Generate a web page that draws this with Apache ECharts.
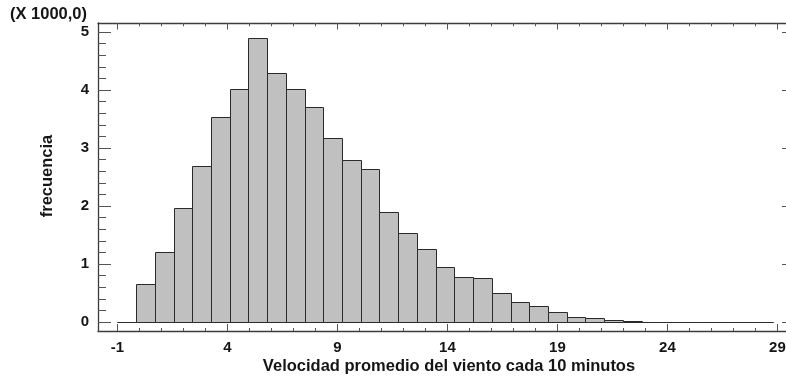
<!DOCTYPE html>
<html>
<head>
<meta charset="utf-8">
<script src="https://cdn.jsdelivr.net/npm/echarts@6/dist/echarts.min.js"></script>
<style>
  html, body { margin: 0; padding: 0; background: #fff; }
  #chart { width: 786px; height: 381px; }
</style>
</head>
<body>
<div id="chart"></div>
<script>
// Histogram of 10-minute mean wind speed
const binStart = -1;      // lower edge of the first class
const binWidth = 0.851;   // class width
const binCounts = [
  0, 651, 1204, 1974, 2682, 3528, 4019, 4900, 4288, 4019,
  3701, 3178, 2786, 2642, 1888, 1532, 1256, 950, 772, 760,
  496, 351, 271, 173, 90, 64, 36, 15, 6, 3,
  2, 1, 1, 0, 1
];
const xTickLabels = [-1, 4, 9, 14, 19, 24, 29];
const yTickValues = [0, 1000, 2000, 3000, 4000, 5000];

const X_MIN = -1.88, X_MAX = 29.8;
const Y_MIN = -155, Y_MAX = 5155;

const FONT = '"Liberation Sans", Arial, sans-serif';
const TEXT = '#151515';
const FRAME = '#3c3c3c';
const TICK = '#555';

const bins = binCounts.map((c, i) => [binStart + i * binWidth, binStart + (i + 1) * binWidth, c]);

const xMinor = [];
for (let v = -1; v <= 29; v++) if (!xTickLabels.includes(v)) xMinor.push(v);
const yMinor = [];
for (let v = 0; v <= 5000; v += 200) if (!yTickValues.includes(v)) yMinor.push(v);

const labelStyle = { fontFamily: FONT, fontWeight: 'bold', fontSize: 15, color: TEXT };

function xAxisDef(position, ticks, len, showLine, labels) {
  return {
    type: 'value', position, min: X_MIN, max: X_MAX,
    axisLine: { show: showLine, onZero: false, lineStyle: { color: FRAME, width: 1.3 } },
    axisTick: { show: true, inside: true, length: len, customValues: ticks, lineStyle: { color: TICK, width: 1 } },
    axisLabel: labels ? Object.assign({ show: true, margin: 9, customValues: ticks }, labelStyle) : { show: false },
    splitLine: { show: false }
  };
}
function yAxisDef(position, ticks, len, showLine, labels) {
  return {
    type: 'value', position, min: Y_MIN, max: Y_MAX,
    axisLine: { show: showLine, onZero: false, lineStyle: { color: FRAME, width: 1.3 } },
    axisTick: { show: true, inside: true, length: len, customValues: ticks, lineStyle: { color: TICK, width: 1 } },
    axisLabel: labels ? Object.assign({ show: true, margin: 9, customValues: ticks, formatter: v => String(v / 1000) }, labelStyle) : { show: false },
    splitLine: { show: false }
  };
}

const chart = echarts.init(document.getElementById('chart'), null, { renderer: 'canvas' });
chart.setOption({
  animation: false,
  backgroundColor: '#fff',
  // the right edge of the plot frame sits just past the canvas
  grid: { left: 98, top: 23, width: 697, height: 308, containLabel: false, outerBoundsMode: 'none' },
  xAxis: [
    xAxisDef('bottom', xTickLabels, 7, true, true),
    xAxisDef('bottom', xMinor, 3, false, false),
    xAxisDef('top', xTickLabels, 6.5, true, false),
    xAxisDef('top', xMinor, 3.3, false, false)
  ],
  yAxis: [
    yAxisDef('left', yTickValues, 13, true, true),
    yAxisDef('left', yMinor, 8, false, false),
    yAxisDef('right', yTickValues, 13, true, false),
    yAxisDef('right', yMinor, 8, false, false)
  ],
  graphic: [
    { type: 'text', left: 10, top: 6, style: { text: '(X 1000,0)', font: 'bold 16.5px ' + FONT, fill: TEXT } },
    { type: 'text', x: 47, y: 176, rotation: Math.PI / 2,
      style: { text: 'frecuencia', font: 'bold 16.5px ' + FONT, fill: TEXT, align: 'center', verticalAlign: 'middle' } },
    { type: 'text', x: 449, y: 366,
      style: { text: 'Velocidad promedio del viento cada 10 minutos', font: 'bold 16.5px ' + FONT, fill: TEXT, align: 'center', verticalAlign: 'middle' } }
  ],
  series: [{
    type: 'custom',
    xAxisIndex: 0, yAxisIndex: 0,
    encode: { x: [0, 1], y: 2 },
    data: bins,
    renderItem(params, api) {
      const p0 = api.coord([api.value(0), api.value(2)]);
      const p1 = api.coord([api.value(1), 0]);
      const left = Math.round(p0[0]) + 0.5, right = Math.round(p1[0]) + 0.5;
      const top = Math.round(p0[1]) + 0.5, bottom = Math.round(p1[1]) + 0.5;
      return {
        type: 'rect',
        shape: { x: left, y: top, width: right - left, height: bottom - top },
        style: { fill: '#c0c0c0', stroke: '#2a2a2a', lineWidth: 1 }
      };
    }
  }]
});
</script>
</body>
</html>
